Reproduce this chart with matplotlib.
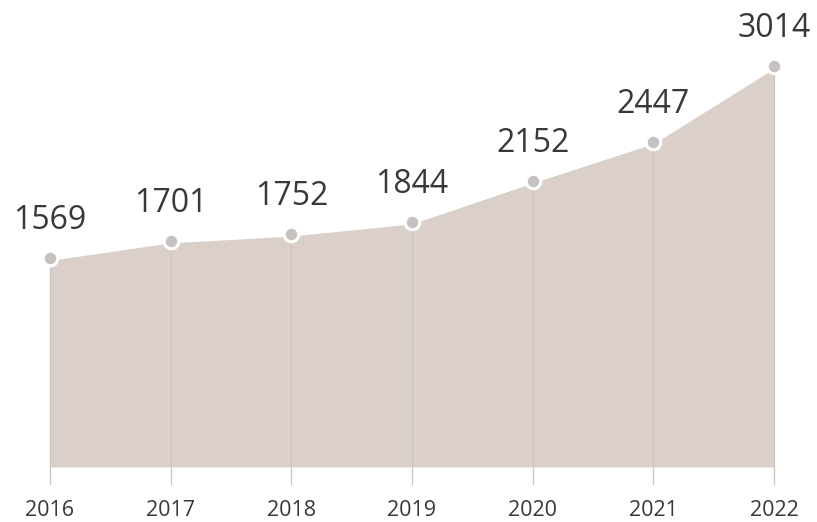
import matplotlib
matplotlib.use("Agg")
import matplotlib.pyplot as plt

years = ["2016", "2017", "2018", "2019", "2020", "2021", "2022"]
values = [1569, 1701, 1752, 1844, 2152, 2447, 3014]

fig = plt.figure(figsize=(8.17, 5.22), dpi=100)
ax = fig.add_axes([0, 0, 1, 1])
ax.set_xlim(-0.414, 6.356)
ax.set_ylim(-414, 3514)
ax.axis("off")

x = list(range(len(years)))
fill_col = "#dbcfc9"
ax.fill_between(x, 0, values, color=fill_col, lw=0, zorder=1)

# faint vertical lines
for xi, v in zip(x, values):
    ax.plot([xi, xi], [-125, v], color="#cdc3be", lw=0.9, zorder=2)

ax.plot(x, values, color="white", lw=3.5, zorder=3, solid_capstyle="round")
ax.scatter(x, values, s=110, color="#c6c1c0", edgecolor="white", linewidth=2.2, zorder=4)

for xi, v in zip(x, values):
    ax.annotate(str(v), (xi, v), xytext=(0, 27), textcoords="offset points",
                ha="center", va="center", fontsize=23, color="#38383a",
                family=["Open Sans", "DejaVu Sans"], fontweight="medium")

for xi, yl in zip(x, years):
    ax.text(xi, -325, yl, ha="center", va="center", fontsize=15.5,
            color="#38383a", family=["Open Sans", "DejaVu Sans"], fontweight="medium")

fig.savefig("out.png", dpi=100, facecolor="white")
